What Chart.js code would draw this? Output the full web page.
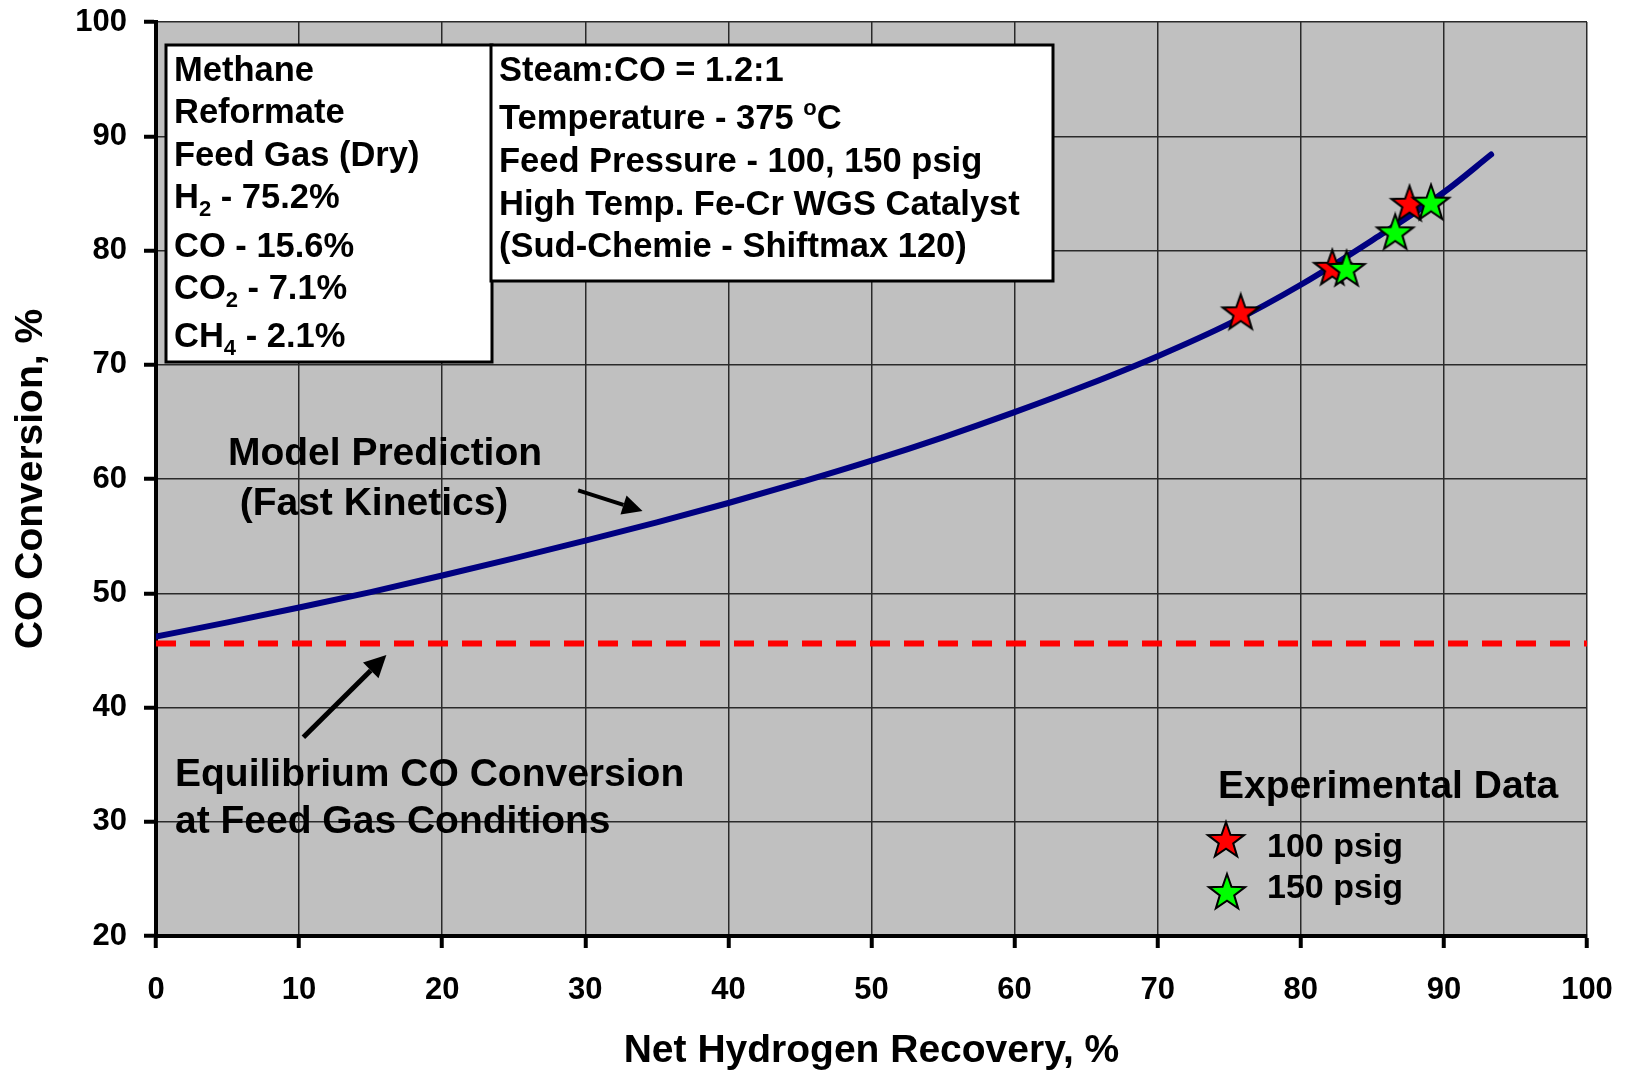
<!DOCTYPE html>
<html>
<head>
<meta charset="utf-8">
<script src="https://cdn.jsdelivr.net/npm/chart.js@4.4.1/dist/chart.umd.min.js"></script>
<style>
  html, body { margin: 0; padding: 0; background: #fff; }
  #wrap { width: 1627px; height: 1073px; }
</style>
</head>
<body>
<div id="wrap"><canvas id="chart" width="1627" height="1073"></canvas></div>
<script>
// model curve (fast kinetics)
const netH2 = [0, 5, 10, 15, 20, 25, 30, 35, 40, 45, 50, 55, 60, 65, 70, 75, 80, 85, 90, 93.3];
const modelConv = [46.2, 47.45, 48.75, 50.1, 51.55, 53.05, 54.6, 56.2, 57.9, 59.7, 61.6, 63.65, 65.85, 68.2, 70.75, 73.6, 77.0, 80.9, 85.1, 88.4];

// equilibrium conversion at feed gas conditions
const eqX = [0, 100];
const eqConv = [45.6, 45.6];

// experimental data
const p100X = [75.8, 82.2, 87.6];
const p100Y = [74.5, 78.4, 84.0];
const p150X = [83.2, 86.6, 89.1];
const p150Y = [78.3, 81.5, 84.1];

// arrows, in data units: [x0, y0, x1 (tip), y1 (tip)]
const modelArrow = [29.5, 59.0, 34.0, 57.2];
const eqArrow = [10.3, 37.4, 16.1, 44.6];

const FONT = "'Liberation Sans', Arial, Helvetica, sans-serif";

function toPts(xs, ys) {
  return xs.map((x, i) => ({ x: x, y: ys[i] }));
}

function makeStar(color, R) {
  const c = document.createElement("canvas");
  const s = Math.ceil(R * 2 + 6);
  c.width = s;
  c.height = s;
  const g = c.getContext("2d");
  g.translate(s / 2, s / 2);
  g.beginPath();
  for (let i = 0; i < 10; i++) {
    const r = i % 2 ? R * 0.4 : R;
    const a = -Math.PI / 2 + (i * Math.PI) / 5;
    g.lineTo(r * Math.cos(a), r * Math.sin(a));
  }
  g.closePath();
  g.fillStyle = color;
  g.fill();
  g.lineWidth = 2;
  g.strokeStyle = "#000";
  g.stroke();
  return c;
}

const redStar = makeStar("#ff0000", 19);
const greenStar = makeStar("#00ff00", 19);

// text with sub/superscripts: parts = [[text, kind]]
function drawRich(ctx, parts, x, y, size) {
  let cx = x;
  parts.forEach(([t, kind]) => {
    let sz = size, dy = 0;
    if (kind === "sub") { sz = Math.round(size * 0.65); dy = 8; }
    if (kind === "sup") { sz = Math.round(size * 0.65); dy = -14; }
    ctx.font = "bold " + sz + "px " + FONT;
    ctx.fillText(t, cx, y + dy);
    cx += ctx.measureText(t).width;
  });
}

function drawArrow(ctx, chart, a, width, headLen, headHalf) {
  const xs = chart.scales.x, ys = chart.scales.y;
  const x0 = xs.getPixelForValue(a[0]), y0 = ys.getPixelForValue(a[1]);
  const x1 = xs.getPixelForValue(a[2]), y1 = ys.getPixelForValue(a[3]);
  const ang = Math.atan2(y1 - y0, x1 - x0);
  const bx = x1 - headLen * Math.cos(ang), by = y1 - headLen * Math.sin(ang);
  ctx.save();
  ctx.strokeStyle = "#000";
  ctx.fillStyle = "#000";
  ctx.lineWidth = width;
  ctx.beginPath();
  ctx.moveTo(x0, y0);
  ctx.lineTo(bx, by);
  ctx.stroke();
  ctx.beginPath();
  ctx.moveTo(x1, y1);
  ctx.lineTo(bx + headHalf * Math.sin(ang), by - headHalf * Math.cos(ang));
  ctx.lineTo(bx - headHalf * Math.sin(ang), by + headHalf * Math.cos(ang));
  ctx.closePath();
  ctx.fill();
  ctx.restore();
}

// keep the plot box where the layout padding puts it
function noLabelPadding(s) {
  s.paddingTop = 0;
  s.paddingBottom = 0;
  s.paddingLeft = 0;
  s.paddingRight = 0;
}

const plotBg = {
  id: "plotBg",
  beforeDraw(chart) {
    const { ctx, chartArea: a } = chart;
    ctx.save();
    ctx.fillStyle = "#c0c0c0";
    ctx.fillRect(a.left, a.top, a.right - a.left, a.bottom - a.top);
    ctx.restore();
  },
};

const notes = {
  id: "notes",
  afterDraw(chart) {
    const ctx = chart.ctx;
    ctx.save();
    ctx.textAlign = "left";
    ctx.textBaseline = "alphabetic";

    // feed gas box
    ctx.fillStyle = "#fff";
    ctx.fillRect(166, 45, 326, 317);
    ctx.strokeStyle = "#000";
    ctx.lineWidth = 3;
    ctx.strokeRect(166, 45, 326, 317);

    // conditions box
    ctx.fillStyle = "#fff";
    ctx.fillRect(491, 45, 562, 236);
    ctx.strokeRect(491, 45, 562, 236);

    ctx.fillStyle = "#000";
    const fs = 34.5;
    const left1 = 174;
    drawRich(ctx, [["Methane", "n"]], left1, 81, fs);
    drawRich(ctx, [["Reformate", "n"]], left1, 123, fs);
    drawRich(ctx, [["Feed Gas (Dry)", "n"]], left1, 166, fs);
    drawRich(ctx, [["H", "n"], ["2", "sub"], [" - 75.2%", "n"]], left1, 208, fs);
    drawRich(ctx, [["CO - 15.6%", "n"]], left1, 257, fs);
    drawRich(ctx, [["CO", "n"], ["2", "sub"], [" - 7.1%", "n"]], left1, 299, fs);
    drawRich(ctx, [["CH", "n"], ["4", "sub"], [" - 2.1%", "n"]], left1, 347, fs);

    const left2 = 499;
    drawRich(ctx, [["Steam:CO = 1.2:1", "n"]], left2, 81, fs);
    drawRich(ctx, [["Temperature - 375 ", "n"], ["o", "sup"], ["C", "n"]], left2, 129, fs);
    drawRich(ctx, [["Feed Pressure - 100, 150 psig", "n"]], left2, 172, fs);
    drawRich(ctx, [["High Temp. Fe-Cr WGS Catalyst", "n"]], left2, 215, fs);
    drawRich(ctx, [["(Sud-Chemie - Shiftmax 120)", "n"]], left2, 257, fs);

    // curve labels
    ctx.textAlign = "center";
    ctx.font = "bold 39px " + FONT;
    ctx.fillText("Model Prediction", 385, 465);
    ctx.fillText("(Fast Kinetics)", 374, 515);
    ctx.textAlign = "left";
    ctx.fillText("Equilibrium CO Conversion", 175, 786);
    ctx.fillText("at Feed Gas Conditions", 175, 833);

    // legend
    ctx.fillText("Experimental Data", 1218, 798);
    ctx.font = "bold 34px " + FONT;
    ctx.fillText("100 psig", 1267, 857);
    ctx.fillText("150 psig", 1267, 898);
    ctx.drawImage(redStar, 1226 - redStar.width / 2, 841 - redStar.height / 2);
    ctx.drawImage(greenStar, 1227 - greenStar.width / 2, 893 - greenStar.height / 2);

    drawArrow(ctx, chart, modelArrow, 4, 20, 10);
    drawArrow(ctx, chart, eqArrow, 5, 22, 11);
    ctx.restore();
  },
};

Chart.defaults.font.family = FONT;
Chart.defaults.font.weight = "bold";
Chart.defaults.color = "#000";

new Chart(document.getElementById("chart"), {
  type: "scatter",
  data: {
    datasets: [
      {
        label: "150 psig",
        data: toPts(p150X, p150Y),
        pointStyle: greenStar,
        pointRadius: 19,
        order: 0,
      },
      {
        label: "100 psig",
        data: toPts(p100X, p100Y),
        pointStyle: redStar,
        pointRadius: 19,
        order: 1,
      },
      {
        label: "Model Prediction (Fast Kinetics)",
        data: toPts(netH2, modelConv),
        showLine: true,
        borderColor: "#000080",
        borderWidth: 6,
        borderCapStyle: "round",
        cubicInterpolationMode: "monotone",
        pointRadius: 0,
        order: 2,
      },
      {
        label: "Equilibrium CO Conversion",
        data: toPts(eqX, eqConv),
        showLine: true,
        borderColor: "#ff0000",
        borderWidth: 6,
        borderDash: [20, 14],
        pointRadius: 0,
        order: 3,
      },
    ],
  },
  options: {
    responsive: false,
    animation: false,
    layout: { padding: { top: 22, right: 40, left: 0, bottom: 0 } },
    plugins: { legend: { display: false }, tooltip: { enabled: false } },
    scales: {
      x: {
        type: "linear",
        min: 0,
        max: 100,
        afterFit: (s) => { s.height = 137; noLabelPadding(s); },
        ticks: { stepSize: 10, padding: 24, font: { size: 31, weight: "bold" } },
        grid: { color: "#2a2a2a", lineWidth: 1.5, tickColor: "#000", tickWidth: 4, tickLength: 12 },
        border: { color: "#000", width: 4 },
        title: { display: true, text: "Net Hydrogen Recovery, %", font: { size: 39, weight: "bold" }, padding: { top: 0, bottom: -2 } },
      },
      y: {
        type: "linear",
        min: 20,
        max: 100,
        afterFit: (s) => { s.width = 156; noLabelPadding(s); },
        ticks: { stepSize: 10, padding: 17, font: { size: 31, weight: "bold" } },
        grid: { color: "#2a2a2a", lineWidth: 1.5, tickColor: "#000", tickWidth: 4, tickLength: 12 },
        border: { color: "#000", width: 4 },
        title: { display: true, text: "CO Conversion, %", font: { size: 39, weight: "bold" }, padding: { top: 8, bottom: 0 } },
      },
    },
  },
  plugins: [plotBg, notes],
});
</script>
</body>
</html>
